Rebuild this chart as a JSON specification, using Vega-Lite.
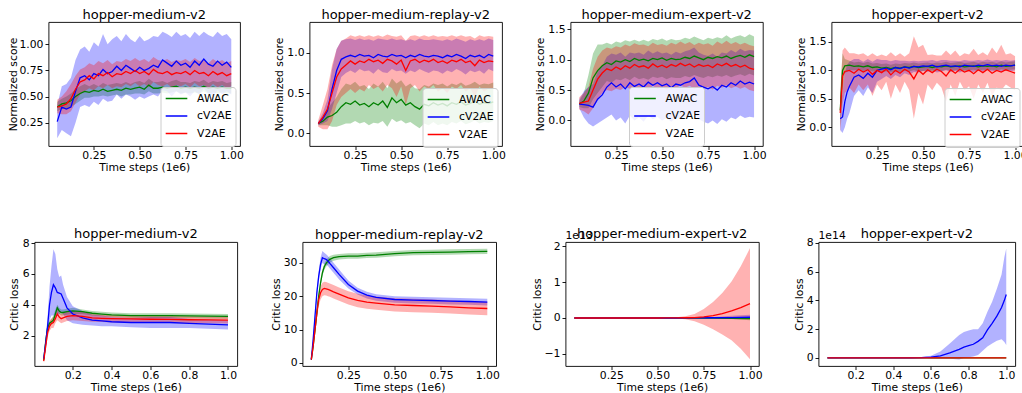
{
"$schema": "https://vega.github.io/schema/vega-lite/v6.json",
"background": "white",
"padding": {"left": 6.5, "top": 8, "right": 0, "bottom": 0},
"config": {
  "font": "DejaVu Sans",
  "view": {"stroke": "#000000", "strokeWidth": 0.9},
  "axis": {"grid": false, "domain": false, "tickCount": 20, "tickColor": "#000000", "tickSize": 3.5, "tickWidth": 0.9, "labelColor": "#000000", "labelFont": "DejaVu Sans", "labelFontSize": 10.8, "titleColor": "#000000", "titleFont": "DejaVu Sans", "titleFontSize": 10.8, "titleFontWeight": "normal", "labelFlush": false, "labelOverlap": false},
  "axisX": {"labelBaseline": "alphabetic", "labelPadding": 8.8, "titleBaseline": "alphabetic", "titleY": 24.7},
  "axisY": {"labelPadding": 2, "titleBaseline": "middle", "titleAngle": 270},
  "title": {"font": "DejaVu Sans", "fontSize": 13, "fontWeight": "normal", "color": "#000000", "baseline": "bottom", "offset": 0.5, "frame": "group", "anchor": "middle"},
  "legend": {"labelFont": "DejaVu Sans", "labelFontSize": 10.8, "labelColor": "#000000", "symbolType": "stroke", "symbolSize": 467, "symbolStrokeWidth": 1.5, "symbolOpacity": 1, "labelOffset": 8.6, "padding": 4, "rowPadding": 1.5, "clipHeight": 15.2, "fillColor": "rgba(255,255,255,0.8)", "strokeColor": "#cccccc", "cornerRadius": 3}
},
"datasets": {
"hm": [
{"s":"AWAC","x":0.05,"y":0.40,"l":0.36,"h":0.45},{"s":"AWAC","x":0.075,"y":0.43,"l":0.38,"h":0.48},{"s":"AWAC","x":0.1,"y":0.44,"l":0.38,"h":0.50},{"s":"AWAC","x":0.125,"y":0.46,"l":0.40,"h":0.53},{"s":"AWAC","x":0.15,"y":0.50,"l":0.43,"h":0.57},{"s":"AWAC","x":0.175,"y":0.53,"l":0.46,"h":0.60},{"s":"AWAC","x":0.2,"y":0.55,"l":0.49,"h":0.62},{"s":"AWAC","x":0.225,"y":0.54,"l":0.49,"h":0.60},{"s":"AWAC","x":0.25,"y":0.56,"l":0.50,"h":0.62},{"s":"AWAC","x":0.275,"y":0.55,"l":0.50,"h":0.60},{"s":"AWAC","x":0.3,"y":0.57,"l":0.51,"h":0.63},{"s":"AWAC","x":0.325,"y":0.55,"l":0.50,"h":0.61},{"s":"AWAC","x":0.35,"y":0.56,"l":0.51,"h":0.62},{"s":"AWAC","x":0.375,"y":0.57,"l":0.52,"h":0.63},{"s":"AWAC","x":0.4,"y":0.56,"l":0.50,"h":0.62},{"s":"AWAC","x":0.425,"y":0.58,"l":0.52,"h":0.64},{"s":"AWAC","x":0.45,"y":0.57,"l":0.52,"h":0.62},{"s":"AWAC","x":0.475,"y":0.58,"l":0.53,"h":0.64},{"s":"AWAC","x":0.5,"y":0.59,"l":0.53,"h":0.65},{"s":"AWAC","x":0.525,"y":0.57,"l":0.52,"h":0.63},{"s":"AWAC","x":0.55,"y":0.61,"l":0.55,"h":0.67},{"s":"AWAC","x":0.575,"y":0.58,"l":0.53,"h":0.64},{"s":"AWAC","x":0.6,"y":0.58,"l":0.53,"h":0.64},{"s":"AWAC","x":0.625,"y":0.59,"l":0.54,"h":0.65},{"s":"AWAC","x":0.65,"y":0.58,"l":0.53,"h":0.63},{"s":"AWAC","x":0.675,"y":0.59,"l":0.54,"h":0.65},{"s":"AWAC","x":0.7,"y":0.60,"l":0.55,"h":0.66},{"s":"AWAC","x":0.725,"y":0.58,"l":0.53,"h":0.64},{"s":"AWAC","x":0.75,"y":0.59,"l":0.54,"h":0.64},{"s":"AWAC","x":0.775,"y":0.58,"l":0.53,"h":0.63},{"s":"AWAC","x":0.8,"y":0.59,"l":0.54,"h":0.65},{"s":"AWAC","x":0.825,"y":0.58,"l":0.53,"h":0.64},{"s":"AWAC","x":0.85,"y":0.60,"l":0.55,"h":0.66},{"s":"AWAC","x":0.875,"y":0.58,"l":0.53,"h":0.63},{"s":"AWAC","x":0.9,"y":0.59,"l":0.54,"h":0.65},{"s":"AWAC","x":0.925,"y":0.58,"l":0.53,"h":0.64},{"s":"AWAC","x":0.95,"y":0.59,"l":0.54,"h":0.65},{"s":"AWAC","x":0.975,"y":0.58,"l":0.53,"h":0.63},{"s":"AWAC","x":1.0,"y":0.58,"l":0.53,"h":0.64},
{"s":"cV2AE","x":0.05,"y":0.26,"l":0.10,"h":0.42},{"s":"cV2AE","x":0.075,"y":0.40,"l":0.18,"h":0.60},{"s":"cV2AE","x":0.1,"y":0.38,"l":0.15,"h":0.62},{"s":"cV2AE","x":0.125,"y":0.40,"l":0.12,"h":0.68},{"s":"cV2AE","x":0.15,"y":0.55,"l":0.25,"h":0.85},{"s":"cV2AE","x":0.175,"y":0.68,"l":0.40,"h":0.95},{"s":"cV2AE","x":0.2,"y":0.70,"l":0.42,"h":0.98},{"s":"cV2AE","x":0.225,"y":0.66,"l":0.40,"h":0.93},{"s":"cV2AE","x":0.25,"y":0.72,"l":0.45,"h":1.02},{"s":"cV2AE","x":0.275,"y":0.70,"l":0.42,"h":0.98},{"s":"cV2AE","x":0.3,"y":0.76,"l":0.48,"h":1.10},{"s":"cV2AE","x":0.325,"y":0.72,"l":0.45,"h":1.00},{"s":"cV2AE","x":0.35,"y":0.74,"l":0.46,"h":1.05},{"s":"cV2AE","x":0.375,"y":0.79,"l":0.52,"h":1.08},{"s":"cV2AE","x":0.4,"y":0.75,"l":0.48,"h":1.03},{"s":"cV2AE","x":0.425,"y":0.80,"l":0.52,"h":1.10},{"s":"cV2AE","x":0.45,"y":0.77,"l":0.50,"h":1.05},{"s":"cV2AE","x":0.475,"y":0.74,"l":0.47,"h":1.02},{"s":"cV2AE","x":0.5,"y":0.78,"l":0.50,"h":1.08},{"s":"cV2AE","x":0.525,"y":0.75,"l":0.48,"h":1.03},{"s":"cV2AE","x":0.55,"y":0.77,"l":0.50,"h":1.05},{"s":"cV2AE","x":0.575,"y":0.80,"l":0.52,"h":1.08},{"s":"cV2AE","x":0.6,"y":0.78,"l":0.50,"h":1.07},{"s":"cV2AE","x":0.625,"y":0.85,"l":0.56,"h":1.12},{"s":"cV2AE","x":0.65,"y":0.82,"l":0.55,"h":1.10},{"s":"cV2AE","x":0.675,"y":0.79,"l":0.50,"h":1.07},{"s":"cV2AE","x":0.7,"y":0.84,"l":0.55,"h":1.12},{"s":"cV2AE","x":0.725,"y":0.80,"l":0.52,"h":1.08},{"s":"cV2AE","x":0.75,"y":0.82,"l":0.54,"h":1.10},{"s":"cV2AE","x":0.775,"y":0.78,"l":0.50,"h":1.06},{"s":"cV2AE","x":0.8,"y":0.84,"l":0.55,"h":1.12},{"s":"cV2AE","x":0.825,"y":0.80,"l":0.52,"h":1.08},{"s":"cV2AE","x":0.85,"y":0.86,"l":0.58,"h":1.12},{"s":"cV2AE","x":0.875,"y":0.81,"l":0.53,"h":1.09},{"s":"cV2AE","x":0.9,"y":0.79,"l":0.50,"h":1.07},{"s":"cV2AE","x":0.925,"y":0.84,"l":0.56,"h":1.12},{"s":"cV2AE","x":0.95,"y":0.80,"l":0.52,"h":1.08},{"s":"cV2AE","x":0.975,"y":0.83,"l":0.55,"h":1.10},{"s":"cV2AE","x":1.0,"y":0.78,"l":0.52,"h":1.05},
{"s":"V2AE","x":0.05,"y":0.40,"l":0.34,"h":0.47},{"s":"V2AE","x":0.075,"y":0.41,"l":0.33,"h":0.50},{"s":"V2AE","x":0.1,"y":0.43,"l":0.33,"h":0.55},{"s":"V2AE","x":0.125,"y":0.48,"l":0.36,"h":0.62},{"s":"V2AE","x":0.15,"y":0.57,"l":0.44,"h":0.70},{"s":"V2AE","x":0.175,"y":0.64,"l":0.52,"h":0.76},{"s":"V2AE","x":0.2,"y":0.66,"l":0.55,"h":0.78},{"s":"V2AE","x":0.225,"y":0.70,"l":0.58,"h":0.82},{"s":"V2AE","x":0.25,"y":0.67,"l":0.56,"h":0.80},{"s":"V2AE","x":0.275,"y":0.72,"l":0.60,"h":0.84},{"s":"V2AE","x":0.3,"y":0.70,"l":0.58,"h":0.82},{"s":"V2AE","x":0.325,"y":0.73,"l":0.61,"h":0.85},{"s":"V2AE","x":0.35,"y":0.69,"l":0.58,"h":0.81},{"s":"V2AE","x":0.375,"y":0.72,"l":0.60,"h":0.84},{"s":"V2AE","x":0.4,"y":0.71,"l":0.59,"h":0.83},{"s":"V2AE","x":0.425,"y":0.74,"l":0.62,"h":0.86},{"s":"V2AE","x":0.45,"y":0.72,"l":0.60,"h":0.84},{"s":"V2AE","x":0.475,"y":0.75,"l":0.63,"h":0.87},{"s":"V2AE","x":0.5,"y":0.72,"l":0.60,"h":0.84},{"s":"V2AE","x":0.525,"y":0.74,"l":0.62,"h":0.86},{"s":"V2AE","x":0.55,"y":0.71,"l":0.59,"h":0.83},{"s":"V2AE","x":0.575,"y":0.76,"l":0.64,"h":0.88},{"s":"V2AE","x":0.6,"y":0.73,"l":0.61,"h":0.85},{"s":"V2AE","x":0.625,"y":0.72,"l":0.60,"h":0.84},{"s":"V2AE","x":0.65,"y":0.74,"l":0.62,"h":0.86},{"s":"V2AE","x":0.675,"y":0.71,"l":0.59,"h":0.83},{"s":"V2AE","x":0.7,"y":0.73,"l":0.61,"h":0.85},{"s":"V2AE","x":0.725,"y":0.72,"l":0.60,"h":0.84},{"s":"V2AE","x":0.75,"y":0.74,"l":0.62,"h":0.86},{"s":"V2AE","x":0.775,"y":0.71,"l":0.59,"h":0.83},{"s":"V2AE","x":0.8,"y":0.75,"l":0.63,"h":0.87},{"s":"V2AE","x":0.825,"y":0.72,"l":0.60,"h":0.84},{"s":"V2AE","x":0.85,"y":0.73,"l":0.61,"h":0.85},{"s":"V2AE","x":0.875,"y":0.70,"l":0.58,"h":0.82},{"s":"V2AE","x":0.9,"y":0.74,"l":0.62,"h":0.86},{"s":"V2AE","x":0.925,"y":0.71,"l":0.59,"h":0.83},{"s":"V2AE","x":0.95,"y":0.73,"l":0.61,"h":0.85},{"s":"V2AE","x":0.975,"y":0.70,"l":0.58,"h":0.82},{"s":"V2AE","x":1.0,"y":0.72,"l":0.60,"h":0.84}
],
"hmr": [
{"s":"AWAC","x":0.05,"y":0.12,"l":0.10,"h":0.14},{"s":"AWAC","x":0.075,"y":0.15,"l":0.10,"h":0.20},{"s":"AWAC","x":0.1,"y":0.20,"l":0.10,"h":0.30},{"s":"AWAC","x":0.125,"y":0.22,"l":0.08,"h":0.38},{"s":"AWAC","x":0.15,"y":0.26,"l":0.08,"h":0.45},{"s":"AWAC","x":0.175,"y":0.33,"l":0.10,"h":0.55},{"s":"AWAC","x":0.2,"y":0.38,"l":0.12,"h":0.62},{"s":"AWAC","x":0.225,"y":0.36,"l":0.12,"h":0.60},{"s":"AWAC","x":0.25,"y":0.40,"l":0.15,"h":0.64},{"s":"AWAC","x":0.275,"y":0.35,"l":0.12,"h":0.58},{"s":"AWAC","x":0.3,"y":0.37,"l":0.14,"h":0.60},{"s":"AWAC","x":0.325,"y":0.33,"l":0.10,"h":0.55},{"s":"AWAC","x":0.35,"y":0.38,"l":0.13,"h":0.62},{"s":"AWAC","x":0.375,"y":0.35,"l":0.12,"h":0.58},{"s":"AWAC","x":0.4,"y":0.40,"l":0.15,"h":0.64},{"s":"AWAC","x":0.425,"y":0.32,"l":0.08,"h":0.56},{"s":"AWAC","x":0.45,"y":0.44,"l":0.18,"h":0.68},{"s":"AWAC","x":0.475,"y":0.38,"l":0.14,"h":0.62},{"s":"AWAC","x":0.5,"y":0.42,"l":0.16,"h":0.66},{"s":"AWAC","x":0.525,"y":0.35,"l":0.12,"h":0.58},{"s":"AWAC","x":0.55,"y":0.38,"l":0.14,"h":0.62},{"s":"AWAC","x":0.575,"y":0.33,"l":0.10,"h":0.56},{"s":"AWAC","x":0.6,"y":0.30,"l":0.06,"h":0.55},{"s":"AWAC","x":0.625,"y":0.36,"l":0.12,"h":0.60},{"s":"AWAC","x":0.65,"y":0.34,"l":0.10,"h":0.58},{"s":"AWAC","x":0.675,"y":0.38,"l":0.14,"h":0.62},{"s":"AWAC","x":0.7,"y":0.35,"l":0.10,"h":0.60},{"s":"AWAC","x":0.725,"y":0.37,"l":0.12,"h":0.62},{"s":"AWAC","x":0.75,"y":0.34,"l":0.10,"h":0.58},{"s":"AWAC","x":0.775,"y":0.38,"l":0.14,"h":0.62},{"s":"AWAC","x":0.8,"y":0.36,"l":0.12,"h":0.60},{"s":"AWAC","x":0.825,"y":0.39,"l":0.15,"h":0.63},{"s":"AWAC","x":0.85,"y":0.35,"l":0.11,"h":0.59},{"s":"AWAC","x":0.875,"y":0.37,"l":0.13,"h":0.61},{"s":"AWAC","x":0.9,"y":0.40,"l":0.16,"h":0.64},{"s":"AWAC","x":0.925,"y":0.36,"l":0.12,"h":0.60},{"s":"AWAC","x":0.95,"y":0.38,"l":0.14,"h":0.62},{"s":"AWAC","x":0.975,"y":0.37,"l":0.13,"h":0.61},{"s":"AWAC","x":1.0,"y":0.39,"l":0.15,"h":0.63},
{"s":"cV2AE","x":0.05,"y":0.12,"l":0.10,"h":0.14},{"s":"cV2AE","x":0.075,"y":0.18,"l":0.12,"h":0.25},{"s":"cV2AE","x":0.1,"y":0.28,"l":0.15,"h":0.42},{"s":"cV2AE","x":0.125,"y":0.55,"l":0.30,"h":0.80},{"s":"cV2AE","x":0.15,"y":0.78,"l":0.50,"h":1.05},{"s":"cV2AE","x":0.175,"y":0.92,"l":0.70,"h":1.15},{"s":"cV2AE","x":0.2,"y":0.95,"l":0.75,"h":1.17},{"s":"cV2AE","x":0.225,"y":0.97,"l":0.78,"h":1.18},{"s":"cV2AE","x":0.25,"y":0.95,"l":0.75,"h":1.16},{"s":"cV2AE","x":0.275,"y":0.98,"l":0.80,"h":1.18},{"s":"cV2AE","x":0.3,"y":0.96,"l":0.77,"h":1.16},{"s":"cV2AE","x":0.325,"y":0.97,"l":0.78,"h":1.17},{"s":"cV2AE","x":0.35,"y":0.94,"l":0.74,"h":1.15},{"s":"cV2AE","x":0.375,"y":0.98,"l":0.80,"h":1.18},{"s":"cV2AE","x":0.4,"y":0.96,"l":0.76,"h":1.17},{"s":"cV2AE","x":0.425,"y":0.95,"l":0.75,"h":1.16},{"s":"cV2AE","x":0.45,"y":0.98,"l":0.80,"h":1.18},{"s":"cV2AE","x":0.475,"y":0.96,"l":0.77,"h":1.16},{"s":"cV2AE","x":0.5,"y":0.97,"l":0.78,"h":1.17},{"s":"cV2AE","x":0.525,"y":0.94,"l":0.74,"h":1.15},{"s":"cV2AE","x":0.55,"y":0.97,"l":0.78,"h":1.17},{"s":"cV2AE","x":0.575,"y":0.95,"l":0.76,"h":1.15},{"s":"cV2AE","x":0.6,"y":0.98,"l":0.80,"h":1.18},{"s":"cV2AE","x":0.625,"y":0.96,"l":0.77,"h":1.16},{"s":"cV2AE","x":0.65,"y":0.95,"l":0.75,"h":1.16},{"s":"cV2AE","x":0.675,"y":0.97,"l":0.78,"h":1.17},{"s":"cV2AE","x":0.7,"y":0.96,"l":0.77,"h":1.16},{"s":"cV2AE","x":0.725,"y":0.94,"l":0.74,"h":1.15},{"s":"cV2AE","x":0.75,"y":0.97,"l":0.78,"h":1.17},{"s":"cV2AE","x":0.775,"y":0.95,"l":0.76,"h":1.15},{"s":"cV2AE","x":0.8,"y":0.98,"l":0.80,"h":1.18},{"s":"cV2AE","x":0.825,"y":0.96,"l":0.77,"h":1.16},{"s":"cV2AE","x":0.85,"y":0.93,"l":0.73,"h":1.14},{"s":"cV2AE","x":0.875,"y":0.97,"l":0.78,"h":1.17},{"s":"cV2AE","x":0.9,"y":0.95,"l":0.76,"h":1.15},{"s":"cV2AE","x":0.925,"y":0.97,"l":0.78,"h":1.17},{"s":"cV2AE","x":0.95,"y":0.94,"l":0.74,"h":1.15},{"s":"cV2AE","x":0.975,"y":0.98,"l":0.80,"h":1.18},{"s":"cV2AE","x":1.0,"y":0.96,"l":0.77,"h":1.16},
{"s":"V2AE","x":0.05,"y":0.12,"l":0.08,"h":0.16},{"s":"V2AE","x":0.075,"y":0.20,"l":0.05,"h":0.35},{"s":"V2AE","x":0.1,"y":0.30,"l":0.05,"h":0.55},{"s":"V2AE","x":0.125,"y":0.50,"l":0.15,"h":0.85},{"s":"V2AE","x":0.15,"y":0.70,"l":0.35,"h":1.05},{"s":"V2AE","x":0.175,"y":0.80,"l":0.45,"h":1.15},{"s":"V2AE","x":0.2,"y":0.85,"l":0.50,"h":1.18},{"s":"V2AE","x":0.225,"y":0.90,"l":0.55,"h":1.22},{"s":"V2AE","x":0.25,"y":0.86,"l":0.50,"h":1.20},{"s":"V2AE","x":0.275,"y":0.90,"l":0.55,"h":1.22},{"s":"V2AE","x":0.3,"y":0.88,"l":0.52,"h":1.20},{"s":"V2AE","x":0.325,"y":0.92,"l":0.60,"h":1.22},{"s":"V2AE","x":0.35,"y":0.89,"l":0.55,"h":1.20},{"s":"V2AE","x":0.375,"y":0.91,"l":0.58,"h":1.22},{"s":"V2AE","x":0.4,"y":0.87,"l":0.52,"h":1.20},{"s":"V2AE","x":0.425,"y":0.92,"l":0.60,"h":1.23},{"s":"V2AE","x":0.45,"y":0.90,"l":0.56,"h":1.21},{"s":"V2AE","x":0.475,"y":0.86,"l":0.45,"h":1.20},{"s":"V2AE","x":0.5,"y":0.91,"l":0.58,"h":1.22},{"s":"V2AE","x":0.525,"y":0.78,"l":0.35,"h":1.15},{"s":"V2AE","x":0.55,"y":0.90,"l":0.56,"h":1.21},{"s":"V2AE","x":0.575,"y":0.92,"l":0.60,"h":1.22},{"s":"V2AE","x":0.6,"y":0.88,"l":0.52,"h":1.20},{"s":"V2AE","x":0.625,"y":0.91,"l":0.58,"h":1.22},{"s":"V2AE","x":0.65,"y":0.89,"l":0.55,"h":1.20},{"s":"V2AE","x":0.675,"y":0.92,"l":0.60,"h":1.22},{"s":"V2AE","x":0.7,"y":0.88,"l":0.52,"h":1.20},{"s":"V2AE","x":0.725,"y":0.90,"l":0.56,"h":1.21},{"s":"V2AE","x":0.75,"y":0.87,"l":0.50,"h":1.20},{"s":"V2AE","x":0.775,"y":0.91,"l":0.58,"h":1.22},{"s":"V2AE","x":0.8,"y":0.89,"l":0.55,"h":1.20},{"s":"V2AE","x":0.825,"y":0.92,"l":0.60,"h":1.22},{"s":"V2AE","x":0.85,"y":0.88,"l":0.52,"h":1.20},{"s":"V2AE","x":0.875,"y":0.90,"l":0.56,"h":1.21},{"s":"V2AE","x":0.9,"y":0.84,"l":0.45,"h":1.18},{"s":"V2AE","x":0.925,"y":0.91,"l":0.58,"h":1.22},{"s":"V2AE","x":0.95,"y":0.88,"l":0.52,"h":1.20},{"s":"V2AE","x":0.975,"y":0.90,"l":0.56,"h":1.21},{"s":"V2AE","x":1.0,"y":0.89,"l":0.55,"h":1.20}
],
"hme": [
{"s":"AWAC","x":0.05,"y":0.27,"l":0.22,"h":0.32},{"s":"AWAC","x":0.075,"y":0.32,"l":0.20,"h":0.45},{"s":"AWAC","x":0.1,"y":0.45,"l":0.20,"h":0.75},{"s":"AWAC","x":0.125,"y":0.70,"l":0.35,"h":1.10},{"s":"AWAC","x":0.15,"y":0.82,"l":0.45,"h":1.25},{"s":"AWAC","x":0.175,"y":0.90,"l":0.55,"h":1.25},{"s":"AWAC","x":0.2,"y":0.95,"l":0.65,"h":1.28},{"s":"AWAC","x":0.225,"y":0.92,"l":0.62,"h":1.25},{"s":"AWAC","x":0.25,"y":0.98,"l":0.68,"h":1.30},{"s":"AWAC","x":0.275,"y":0.96,"l":0.66,"h":1.28},{"s":"AWAC","x":0.3,"y":1.00,"l":0.70,"h":1.32},{"s":"AWAC","x":0.325,"y":0.97,"l":0.66,"h":1.30},{"s":"AWAC","x":0.35,"y":1.02,"l":0.72,"h":1.33},{"s":"AWAC","x":0.375,"y":0.99,"l":0.68,"h":1.30},{"s":"AWAC","x":0.4,"y":1.01,"l":0.70,"h":1.33},{"s":"AWAC","x":0.425,"y":0.98,"l":0.67,"h":1.30},{"s":"AWAC","x":0.45,"y":1.02,"l":0.72,"h":1.34},{"s":"AWAC","x":0.475,"y":1.00,"l":0.70,"h":1.32},{"s":"AWAC","x":0.5,"y":1.03,"l":0.72,"h":1.35},{"s":"AWAC","x":0.525,"y":0.99,"l":0.68,"h":1.31},{"s":"AWAC","x":0.55,"y":1.02,"l":0.71,"h":1.34},{"s":"AWAC","x":0.575,"y":1.00,"l":0.70,"h":1.32},{"s":"AWAC","x":0.6,"y":1.01,"l":0.70,"h":1.33},{"s":"AWAC","x":0.625,"y":1.04,"l":0.73,"h":1.36},{"s":"AWAC","x":0.65,"y":1.02,"l":0.71,"h":1.34},{"s":"AWAC","x":0.675,"y":1.06,"l":0.75,"h":1.38},{"s":"AWAC","x":0.7,"y":1.03,"l":0.72,"h":1.35},{"s":"AWAC","x":0.725,"y":1.00,"l":0.70,"h":1.32},{"s":"AWAC","x":0.75,"y":1.04,"l":0.73,"h":1.36},{"s":"AWAC","x":0.775,"y":1.02,"l":0.71,"h":1.34},{"s":"AWAC","x":0.8,"y":1.05,"l":0.74,"h":1.37},{"s":"AWAC","x":0.825,"y":1.03,"l":0.72,"h":1.35},{"s":"AWAC","x":0.85,"y":1.06,"l":0.75,"h":1.40},{"s":"AWAC","x":0.875,"y":1.02,"l":0.71,"h":1.35},{"s":"AWAC","x":0.9,"y":1.05,"l":0.74,"h":1.38},{"s":"AWAC","x":0.925,"y":1.07,"l":0.76,"h":1.40},{"s":"AWAC","x":0.95,"y":1.04,"l":0.73,"h":1.37},{"s":"AWAC","x":0.975,"y":1.08,"l":0.77,"h":1.42},{"s":"AWAC","x":1.0,"y":1.05,"l":0.74,"h":1.38},
{"s":"cV2AE","x":0.05,"y":0.27,"l":0.20,"h":0.35},{"s":"cV2AE","x":0.075,"y":0.26,"l":0.05,"h":0.48},{"s":"cV2AE","x":0.1,"y":0.25,"l":-0.05,"h":0.55},{"s":"cV2AE","x":0.125,"y":0.22,"l":-0.10,"h":0.60},{"s":"cV2AE","x":0.15,"y":0.35,"l":-0.05,"h":0.80},{"s":"cV2AE","x":0.175,"y":0.42,"l":0.00,"h":0.90},{"s":"cV2AE","x":0.2,"y":0.55,"l":0.05,"h":1.05},{"s":"cV2AE","x":0.225,"y":0.62,"l":0.10,"h":1.10},{"s":"cV2AE","x":0.25,"y":0.55,"l":0.00,"h":1.08},{"s":"cV2AE","x":0.275,"y":0.60,"l":0.05,"h":1.12},{"s":"cV2AE","x":0.3,"y":0.52,"l":-0.05,"h":1.05},{"s":"cV2AE","x":0.325,"y":0.62,"l":0.08,"h":1.12},{"s":"cV2AE","x":0.35,"y":0.56,"l":0.00,"h":1.10},{"s":"cV2AE","x":0.375,"y":0.60,"l":0.05,"h":1.12},{"s":"cV2AE","x":0.4,"y":0.55,"l":-0.02,"h":1.08},{"s":"cV2AE","x":0.425,"y":0.63,"l":0.08,"h":1.15},{"s":"cV2AE","x":0.45,"y":0.58,"l":0.02,"h":1.10},{"s":"cV2AE","x":0.475,"y":0.62,"l":0.06,"h":1.14},{"s":"cV2AE","x":0.5,"y":0.57,"l":0.00,"h":1.10},{"s":"cV2AE","x":0.525,"y":0.60,"l":0.04,"h":1.12},{"s":"cV2AE","x":0.55,"y":0.54,"l":-0.02,"h":1.08},{"s":"cV2AE","x":0.575,"y":0.60,"l":0.05,"h":1.13},{"s":"cV2AE","x":0.6,"y":0.58,"l":0.02,"h":1.10},{"s":"cV2AE","x":0.625,"y":0.62,"l":0.06,"h":1.14},{"s":"cV2AE","x":0.65,"y":0.64,"l":0.08,"h":1.16},{"s":"cV2AE","x":0.675,"y":0.70,"l":0.12,"h":1.20},{"s":"cV2AE","x":0.7,"y":0.58,"l":0.02,"h":1.12},{"s":"cV2AE","x":0.725,"y":0.55,"l":-0.02,"h":1.08},{"s":"cV2AE","x":0.75,"y":0.52,"l":-0.05,"h":1.06},{"s":"cV2AE","x":0.775,"y":0.56,"l":0.00,"h":1.10},{"s":"cV2AE","x":0.8,"y":0.50,"l":-0.06,"h":1.05},{"s":"cV2AE","x":0.825,"y":0.58,"l":0.02,"h":1.12},{"s":"cV2AE","x":0.85,"y":0.55,"l":-0.02,"h":1.10},{"s":"cV2AE","x":0.875,"y":0.62,"l":0.05,"h":1.16},{"s":"cV2AE","x":0.9,"y":0.58,"l":0.02,"h":1.12},{"s":"cV2AE","x":0.925,"y":0.65,"l":0.08,"h":1.18},{"s":"cV2AE","x":0.95,"y":0.60,"l":0.04,"h":1.14},{"s":"cV2AE","x":0.975,"y":0.63,"l":0.06,"h":1.16},{"s":"cV2AE","x":1.0,"y":0.60,"l":0.05,"h":1.15},
{"s":"V2AE","x":0.05,"y":0.28,"l":0.18,"h":0.38},{"s":"V2AE","x":0.075,"y":0.30,"l":0.15,"h":0.45},{"s":"V2AE","x":0.1,"y":0.32,"l":0.10,"h":0.55},{"s":"V2AE","x":0.125,"y":0.50,"l":0.20,"h":0.85},{"s":"V2AE","x":0.15,"y":0.68,"l":0.35,"h":1.05},{"s":"V2AE","x":0.175,"y":0.78,"l":0.45,"h":1.15},{"s":"V2AE","x":0.2,"y":0.85,"l":0.50,"h":1.20},{"s":"V2AE","x":0.225,"y":0.82,"l":0.48,"h":1.18},{"s":"V2AE","x":0.25,"y":0.88,"l":0.52,"h":1.22},{"s":"V2AE","x":0.275,"y":0.84,"l":0.50,"h":1.20},{"s":"V2AE","x":0.3,"y":0.90,"l":0.55,"h":1.25},{"s":"V2AE","x":0.325,"y":0.86,"l":0.52,"h":1.22},{"s":"V2AE","x":0.35,"y":0.92,"l":0.56,"h":1.27},{"s":"V2AE","x":0.375,"y":0.88,"l":0.52,"h":1.24},{"s":"V2AE","x":0.4,"y":0.90,"l":0.55,"h":1.25},{"s":"V2AE","x":0.425,"y":0.86,"l":0.50,"h":1.22},{"s":"V2AE","x":0.45,"y":0.93,"l":0.57,"h":1.28},{"s":"V2AE","x":0.475,"y":0.88,"l":0.52,"h":1.24},{"s":"V2AE","x":0.5,"y":0.91,"l":0.55,"h":1.26},{"s":"V2AE","x":0.525,"y":0.87,"l":0.51,"h":1.23},{"s":"V2AE","x":0.55,"y":0.92,"l":0.56,"h":1.28},{"s":"V2AE","x":0.575,"y":0.89,"l":0.53,"h":1.25},{"s":"V2AE","x":0.6,"y":0.94,"l":0.58,"h":1.30},{"s":"V2AE","x":0.625,"y":0.90,"l":0.54,"h":1.26},{"s":"V2AE","x":0.65,"y":0.93,"l":0.57,"h":1.29},{"s":"V2AE","x":0.675,"y":0.88,"l":0.52,"h":1.24},{"s":"V2AE","x":0.7,"y":0.92,"l":0.56,"h":1.28},{"s":"V2AE","x":0.725,"y":0.89,"l":0.53,"h":1.25},{"s":"V2AE","x":0.75,"y":0.91,"l":0.55,"h":1.27},{"s":"V2AE","x":0.775,"y":0.87,"l":0.51,"h":1.23},{"s":"V2AE","x":0.8,"y":0.93,"l":0.57,"h":1.30},{"s":"V2AE","x":0.825,"y":0.90,"l":0.54,"h":1.26},{"s":"V2AE","x":0.85,"y":0.94,"l":0.58,"h":1.31},{"s":"V2AE","x":0.875,"y":0.89,"l":0.53,"h":1.26},{"s":"V2AE","x":0.9,"y":0.92,"l":0.56,"h":1.29},{"s":"V2AE","x":0.925,"y":0.88,"l":0.52,"h":1.25},{"s":"V2AE","x":0.95,"y":0.91,"l":0.55,"h":1.28},{"s":"V2AE","x":0.975,"y":0.86,"l":0.50,"h":1.24},{"s":"V2AE","x":1.0,"y":0.84,"l":0.48,"h":1.22}
],
"he": [
{"s":"AWAC","x":0.05,"y":0.30,"l":0.00,"h":0.60},{"s":"AWAC","x":0.0625,"y":1.00,"l":0.60,"h":1.30},{"s":"AWAC","x":0.075,"y":1.08,"l":0.95,"h":1.20},{"s":"AWAC","x":0.1,"y":1.09,"l":1.00,"h":1.17},{"s":"AWAC","x":0.125,"y":1.07,"l":1.00,"h":1.14},{"s":"AWAC","x":0.15,"y":1.08,"l":1.01,"h":1.15},{"s":"AWAC","x":0.175,"y":1.06,"l":0.99,"h":1.13},{"s":"AWAC","x":0.2,"y":1.08,"l":1.01,"h":1.15},{"s":"AWAC","x":0.225,"y":1.05,"l":0.98,"h":1.12},{"s":"AWAC","x":0.25,"y":1.06,"l":0.99,"h":1.13},{"s":"AWAC","x":0.275,"y":1.04,"l":0.97,"h":1.11},{"s":"AWAC","x":0.3,"y":1.05,"l":0.98,"h":1.12},{"s":"AWAC","x":0.325,"y":1.03,"l":0.96,"h":1.10},{"s":"AWAC","x":0.35,"y":1.05,"l":0.98,"h":1.12},{"s":"AWAC","x":0.375,"y":1.04,"l":0.97,"h":1.11},{"s":"AWAC","x":0.4,"y":1.06,"l":0.99,"h":1.13},{"s":"AWAC","x":0.425,"y":1.05,"l":0.98,"h":1.12},{"s":"AWAC","x":0.45,"y":1.07,"l":1.00,"h":1.14},{"s":"AWAC","x":0.475,"y":1.05,"l":0.98,"h":1.12},{"s":"AWAC","x":0.5,"y":1.06,"l":0.99,"h":1.13},{"s":"AWAC","x":0.525,"y":1.07,"l":1.00,"h":1.14},{"s":"AWAC","x":0.55,"y":1.05,"l":0.98,"h":1.12},{"s":"AWAC","x":0.575,"y":1.07,"l":1.00,"h":1.14},{"s":"AWAC","x":0.6,"y":1.06,"l":0.99,"h":1.13},{"s":"AWAC","x":0.625,"y":1.08,"l":1.01,"h":1.15},{"s":"AWAC","x":0.65,"y":1.06,"l":0.99,"h":1.13},{"s":"AWAC","x":0.675,"y":1.07,"l":1.00,"h":1.14},{"s":"AWAC","x":0.7,"y":1.08,"l":1.01,"h":1.15},{"s":"AWAC","x":0.725,"y":1.06,"l":0.99,"h":1.13},{"s":"AWAC","x":0.75,"y":1.07,"l":1.00,"h":1.14},{"s":"AWAC","x":0.775,"y":1.08,"l":1.01,"h":1.15},{"s":"AWAC","x":0.8,"y":1.06,"l":0.99,"h":1.13},{"s":"AWAC","x":0.825,"y":1.08,"l":1.01,"h":1.15},{"s":"AWAC","x":0.85,"y":1.07,"l":1.00,"h":1.14},{"s":"AWAC","x":0.875,"y":1.08,"l":1.01,"h":1.15},{"s":"AWAC","x":0.9,"y":1.06,"l":0.99,"h":1.13},{"s":"AWAC","x":0.925,"y":1.09,"l":1.02,"h":1.16},{"s":"AWAC","x":0.95,"y":1.07,"l":1.00,"h":1.14},{"s":"AWAC","x":0.975,"y":1.08,"l":1.01,"h":1.15},{"s":"AWAC","x":1.0,"y":1.09,"l":1.02,"h":1.16},
{"s":"cV2AE","x":0.05,"y":0.15,"l":-0.05,"h":0.40},{"s":"cV2AE","x":0.0625,"y":0.18,"l":-0.10,"h":0.60},{"s":"cV2AE","x":0.075,"y":0.45,"l":0.00,"h":0.95},{"s":"cV2AE","x":0.0875,"y":0.62,"l":0.15,"h":1.10},{"s":"cV2AE","x":0.1,"y":0.72,"l":0.25,"h":1.15},{"s":"cV2AE","x":0.125,"y":0.88,"l":0.55,"h":1.20},{"s":"cV2AE","x":0.15,"y":0.92,"l":0.65,"h":1.20},{"s":"cV2AE","x":0.175,"y":0.86,"l":0.55,"h":1.15},{"s":"cV2AE","x":0.2,"y":0.95,"l":0.70,"h":1.20},{"s":"cV2AE","x":0.225,"y":0.88,"l":0.60,"h":1.15},{"s":"cV2AE","x":0.25,"y":1.00,"l":0.80,"h":1.20},{"s":"cV2AE","x":0.275,"y":1.02,"l":0.85,"h":1.18},{"s":"cV2AE","x":0.3,"y":1.04,"l":0.90,"h":1.18},{"s":"cV2AE","x":0.325,"y":1.01,"l":0.85,"h":1.16},{"s":"cV2AE","x":0.35,"y":1.05,"l":0.92,"h":1.18},{"s":"cV2AE","x":0.375,"y":1.03,"l":0.88,"h":1.17},{"s":"cV2AE","x":0.4,"y":1.06,"l":0.95,"h":1.17},{"s":"cV2AE","x":0.425,"y":1.04,"l":0.92,"h":1.16},{"s":"cV2AE","x":0.45,"y":1.07,"l":0.97,"h":1.17},{"s":"cV2AE","x":0.475,"y":1.06,"l":0.96,"h":1.16},{"s":"cV2AE","x":0.5,"y":1.08,"l":0.99,"h":1.17},{"s":"cV2AE","x":0.525,"y":1.07,"l":0.97,"h":1.17},{"s":"cV2AE","x":0.55,"y":1.09,"l":1.00,"h":1.18},{"s":"cV2AE","x":0.575,"y":1.06,"l":0.96,"h":1.16},{"s":"cV2AE","x":0.6,"y":1.08,"l":0.98,"h":1.18},{"s":"cV2AE","x":0.625,"y":1.09,"l":1.00,"h":1.18},{"s":"cV2AE","x":0.65,"y":1.07,"l":0.97,"h":1.17},{"s":"cV2AE","x":0.675,"y":1.08,"l":0.99,"h":1.17},{"s":"cV2AE","x":0.7,"y":1.06,"l":0.96,"h":1.16},{"s":"cV2AE","x":0.725,"y":1.09,"l":1.00,"h":1.18},{"s":"cV2AE","x":0.75,"y":1.08,"l":0.98,"h":1.17},{"s":"cV2AE","x":0.775,"y":1.07,"l":0.97,"h":1.17},{"s":"cV2AE","x":0.8,"y":1.09,"l":1.00,"h":1.18},{"s":"cV2AE","x":0.825,"y":1.08,"l":0.98,"h":1.17},{"s":"cV2AE","x":0.85,"y":1.10,"l":1.01,"h":1.19},{"s":"cV2AE","x":0.875,"y":1.08,"l":0.98,"h":1.17},{"s":"cV2AE","x":0.9,"y":1.09,"l":1.00,"h":1.18},{"s":"cV2AE","x":0.925,"y":1.07,"l":0.97,"h":1.17},{"s":"cV2AE","x":0.95,"y":1.09,"l":1.00,"h":1.18},{"s":"cV2AE","x":0.975,"y":1.08,"l":0.98,"h":1.17},{"s":"cV2AE","x":1.0,"y":1.09,"l":1.00,"h":1.18},
{"s":"V2AE","x":0.05,"y":0.25,"l":-0.10,"h":0.55},{"s":"V2AE","x":0.0625,"y":0.90,"l":0.40,"h":1.35},{"s":"V2AE","x":0.075,"y":0.98,"l":0.60,"h":1.40},{"s":"V2AE","x":0.1,"y":1.00,"l":0.70,"h":1.30},{"s":"V2AE","x":0.125,"y":0.95,"l":0.60,"h":1.30},{"s":"V2AE","x":0.15,"y":1.02,"l":0.75,"h":1.28},{"s":"V2AE","x":0.175,"y":0.97,"l":0.65,"h":1.30},{"s":"V2AE","x":0.2,"y":1.01,"l":0.75,"h":1.25},{"s":"V2AE","x":0.225,"y":0.93,"l":0.55,"h":1.30},{"s":"V2AE","x":0.25,"y":1.00,"l":0.75,"h":1.25},{"s":"V2AE","x":0.275,"y":0.96,"l":0.65,"h":1.28},{"s":"V2AE","x":0.3,"y":1.02,"l":0.80,"h":1.25},{"s":"V2AE","x":0.325,"y":0.92,"l":0.50,"h":1.32},{"s":"V2AE","x":0.35,"y":1.00,"l":0.75,"h":1.25},{"s":"V2AE","x":0.375,"y":0.95,"l":0.60,"h":1.30},{"s":"V2AE","x":0.4,"y":1.02,"l":0.80,"h":1.24},{"s":"V2AE","x":0.425,"y":0.97,"l":0.65,"h":1.30},{"s":"V2AE","x":0.45,"y":0.85,"l":0.15,"h":1.60},{"s":"V2AE","x":0.475,"y":1.00,"l":0.60,"h":1.40},{"s":"V2AE","x":0.5,"y":0.93,"l":0.40,"h":1.45},{"s":"V2AE","x":0.525,"y":1.01,"l":0.75,"h":1.27},{"s":"V2AE","x":0.55,"y":0.96,"l":0.65,"h":1.28},{"s":"V2AE","x":0.575,"y":1.02,"l":0.78,"h":1.26},{"s":"V2AE","x":0.6,"y":0.98,"l":0.70,"h":1.26},{"s":"V2AE","x":0.625,"y":0.90,"l":0.45,"h":1.35},{"s":"V2AE","x":0.65,"y":1.01,"l":0.75,"h":1.27},{"s":"V2AE","x":0.675,"y":0.95,"l":0.55,"h":1.35},{"s":"V2AE","x":0.7,"y":1.02,"l":0.80,"h":1.25},{"s":"V2AE","x":0.725,"y":0.97,"l":0.65,"h":1.30},{"s":"V2AE","x":0.75,"y":1.00,"l":0.72,"h":1.28},{"s":"V2AE","x":0.775,"y":0.94,"l":0.50,"h":1.38},{"s":"V2AE","x":0.8,"y":1.01,"l":0.75,"h":1.27},{"s":"V2AE","x":0.825,"y":0.96,"l":0.60,"h":1.32},{"s":"V2AE","x":0.85,"y":1.02,"l":0.78,"h":1.26},{"s":"V2AE","x":0.875,"y":0.95,"l":0.55,"h":1.40},{"s":"V2AE","x":0.9,"y":1.00,"l":0.70,"h":1.30},{"s":"V2AE","x":0.925,"y":0.97,"l":0.65,"h":1.45},{"s":"V2AE","x":0.95,"y":1.01,"l":0.75,"h":1.28},{"s":"V2AE","x":0.975,"y":0.98,"l":0.70,"h":1.30},{"s":"V2AE","x":1.0,"y":0.95,"l":0.65,"h":1.25}
],
"cm": [
{"s":"AWAC","x":0.05,"y":0.4,"l":0.3,"h":0.5},{"s":"AWAC","x":0.06,"y":1.6,"l":1.4,"h":1.8},{"s":"AWAC","x":0.07,"y":2.5,"l":2.3,"h":2.7},{"s":"AWAC","x":0.08,"y":2.8,"l":2.6,"h":3.0},{"s":"AWAC","x":0.09,"y":2.9,"l":2.7,"h":3.1},{"s":"AWAC","x":0.1,"y":3.0,"l":2.8,"h":3.3},{"s":"AWAC","x":0.11,"y":3.4,"l":3.1,"h":3.7},{"s":"AWAC","x":0.12,"y":3.8,"l":3.5,"h":4.0},{"s":"AWAC","x":0.13,"y":3.6,"l":3.4,"h":3.8},{"s":"AWAC","x":0.14,"y":3.5,"l":3.3,"h":3.7},{"s":"AWAC","x":0.15,"y":3.5,"l":3.3,"h":3.7},{"s":"AWAC","x":0.17,"y":3.55,"l":3.35,"h":3.75},{"s":"AWAC","x":0.2,"y":3.6,"l":3.4,"h":3.8},{"s":"AWAC","x":0.25,"y":3.55,"l":3.4,"h":3.7},{"s":"AWAC","x":0.3,"y":3.45,"l":3.3,"h":3.6},{"s":"AWAC","x":0.35,"y":3.4,"l":3.25,"h":3.55},{"s":"AWAC","x":0.4,"y":3.35,"l":3.2,"h":3.5},{"s":"AWAC","x":0.5,"y":3.3,"l":3.15,"h":3.45},{"s":"AWAC","x":0.6,"y":3.3,"l":3.15,"h":3.45},{"s":"AWAC","x":0.7,"y":3.3,"l":3.15,"h":3.45},{"s":"AWAC","x":0.8,"y":3.28,"l":3.13,"h":3.43},{"s":"AWAC","x":0.9,"y":3.26,"l":3.11,"h":3.41},{"s":"AWAC","x":1.0,"y":3.25,"l":3.1,"h":3.4},
{"s":"cV2AE","x":0.05,"y":0.5,"l":0.3,"h":0.7},{"s":"cV2AE","x":0.06,"y":1.5,"l":1.1,"h":1.9},{"s":"cV2AE","x":0.07,"y":2.6,"l":2.0,"h":3.2},{"s":"cV2AE","x":0.08,"y":4.0,"l":3.0,"h":5.2},{"s":"cV2AE","x":0.09,"y":4.8,"l":3.3,"h":6.5},{"s":"cV2AE","x":0.1,"y":5.3,"l":3.3,"h":7.6},{"s":"cV2AE","x":0.11,"y":5.1,"l":3.3,"h":7.3},{"s":"cV2AE","x":0.12,"y":4.8,"l":3.3,"h":6.3},{"s":"cV2AE","x":0.13,"y":4.75,"l":3.4,"h":5.8},{"s":"cV2AE","x":0.14,"y":4.7,"l":3.5,"h":5.9},{"s":"cV2AE","x":0.15,"y":4.4,"l":3.4,"h":5.3},{"s":"cV2AE","x":0.17,"y":3.8,"l":3.0,"h":4.5},{"s":"cV2AE","x":0.2,"y":3.4,"l":2.8,"h":3.9},{"s":"cV2AE","x":0.25,"y":3.15,"l":2.7,"h":3.6},{"s":"cV2AE","x":0.3,"y":3.0,"l":2.65,"h":3.35},{"s":"cV2AE","x":0.35,"y":2.95,"l":2.6,"h":3.3},{"s":"cV2AE","x":0.4,"y":2.9,"l":2.6,"h":3.2},{"s":"cV2AE","x":0.5,"y":2.85,"l":2.55,"h":3.15},{"s":"cV2AE","x":0.6,"y":2.85,"l":2.5,"h":3.2},{"s":"cV2AE","x":0.7,"y":2.85,"l":2.5,"h":3.2},{"s":"cV2AE","x":0.8,"y":2.8,"l":2.5,"h":3.1},{"s":"cV2AE","x":0.9,"y":2.75,"l":2.45,"h":3.05},{"s":"cV2AE","x":1.0,"y":2.7,"l":2.4,"h":3.0},
{"s":"V2AE","x":0.05,"y":0.35,"l":0.25,"h":0.45},{"s":"V2AE","x":0.06,"y":1.3,"l":1.0,"h":1.6},{"s":"V2AE","x":0.07,"y":2.2,"l":1.9,"h":2.5},{"s":"V2AE","x":0.08,"y":2.6,"l":2.3,"h":2.9},{"s":"V2AE","x":0.09,"y":2.8,"l":2.5,"h":3.1},{"s":"V2AE","x":0.1,"y":2.85,"l":2.5,"h":3.2},{"s":"V2AE","x":0.11,"y":3.1,"l":2.8,"h":3.4},{"s":"V2AE","x":0.12,"y":3.4,"l":3.0,"h":3.7},{"s":"V2AE","x":0.13,"y":3.2,"l":2.9,"h":3.5},{"s":"V2AE","x":0.14,"y":3.1,"l":2.8,"h":3.4},{"s":"V2AE","x":0.15,"y":3.15,"l":2.85,"h":3.45},{"s":"V2AE","x":0.17,"y":3.25,"l":2.95,"h":3.55},{"s":"V2AE","x":0.2,"y":3.3,"l":3.0,"h":3.6},{"s":"V2AE","x":0.25,"y":3.25,"l":2.95,"h":3.55},{"s":"V2AE","x":0.3,"y":3.15,"l":2.9,"h":3.4},{"s":"V2AE","x":0.35,"y":3.12,"l":2.88,"h":3.36},{"s":"V2AE","x":0.4,"y":3.1,"l":2.85,"h":3.35},{"s":"V2AE","x":0.5,"y":3.08,"l":2.85,"h":3.3},{"s":"V2AE","x":0.6,"y":3.06,"l":2.83,"h":3.29},{"s":"V2AE","x":0.7,"y":3.05,"l":2.82,"h":3.28},{"s":"V2AE","x":0.8,"y":3.03,"l":2.8,"h":3.26},{"s":"V2AE","x":0.9,"y":3.02,"l":2.8,"h":3.24},{"s":"V2AE","x":1.0,"y":3.0,"l":2.78,"h":3.22}
],
"cmr": [
{"s":"AWAC","x":0.05,"y":1.0,"l":0.8,"h":1.2},{"s":"AWAC","x":0.06,"y":5,"l":4.5,"h":5.5},{"s":"AWAC","x":0.07,"y":10,"l":9.2,"h":10.8},{"s":"AWAC","x":0.08,"y":15,"l":14,"h":16},{"s":"AWAC","x":0.09,"y":20,"l":19,"h":21},{"s":"AWAC","x":0.1,"y":24,"l":23,"h":25},{"s":"AWAC","x":0.11,"y":27,"l":26,"h":28},{"s":"AWAC","x":0.12,"y":28.8,"l":27.8,"h":29.8},{"s":"AWAC","x":0.13,"y":29.8,"l":28.8,"h":30.8},{"s":"AWAC","x":0.14,"y":30.5,"l":29.5,"h":31.5},{"s":"AWAC","x":0.15,"y":31,"l":30,"h":32},{"s":"AWAC","x":0.17,"y":31.5,"l":30.6,"h":32.4},{"s":"AWAC","x":0.2,"y":31.8,"l":31,"h":32.6},{"s":"AWAC","x":0.25,"y":32,"l":31.2,"h":32.8},{"s":"AWAC","x":0.3,"y":32,"l":31.2,"h":32.8},{"s":"AWAC","x":0.35,"y":32.2,"l":31.4,"h":33},{"s":"AWAC","x":0.4,"y":32.3,"l":31.5,"h":33.1},{"s":"AWAC","x":0.5,"y":32.7,"l":31.9,"h":33.5},{"s":"AWAC","x":0.6,"y":33,"l":32.2,"h":33.8},{"s":"AWAC","x":0.7,"y":33.1,"l":32.3,"h":33.9},{"s":"AWAC","x":0.8,"y":33.2,"l":32.4,"h":34},{"s":"AWAC","x":0.9,"y":33.3,"l":32.5,"h":34.1},{"s":"AWAC","x":1.0,"y":33.4,"l":32.6,"h":34.2},
{"s":"cV2AE","x":0.05,"y":1.0,"l":0.8,"h":1.2},{"s":"cV2AE","x":0.06,"y":7,"l":6,"h":8},{"s":"cV2AE","x":0.07,"y":14,"l":12.5,"h":15.5},{"s":"cV2AE","x":0.08,"y":21,"l":19.5,"h":22.5},{"s":"cV2AE","x":0.09,"y":26,"l":24.5,"h":27.5},{"s":"cV2AE","x":0.1,"y":29.5,"l":28,"h":31.5},{"s":"cV2AE","x":0.11,"y":31.5,"l":30,"h":33.5},{"s":"cV2AE","x":0.12,"y":31.2,"l":29.5,"h":33},{"s":"cV2AE","x":0.13,"y":31,"l":29.5,"h":32.5},{"s":"cV2AE","x":0.14,"y":30.5,"l":29,"h":32},{"s":"cV2AE","x":0.15,"y":29.8,"l":28.3,"h":31.3},{"s":"cV2AE","x":0.17,"y":28.5,"l":27,"h":30},{"s":"cV2AE","x":0.2,"y":26.5,"l":25,"h":28},{"s":"cV2AE","x":0.25,"y":23.5,"l":22.3,"h":24.7},{"s":"cV2AE","x":0.3,"y":21.5,"l":20.5,"h":22.5},{"s":"cV2AE","x":0.35,"y":20.3,"l":19.3,"h":21.3},{"s":"cV2AE","x":0.4,"y":19.6,"l":18.6,"h":20.6},{"s":"cV2AE","x":0.5,"y":19,"l":18,"h":20},{"s":"cV2AE","x":0.6,"y":18.8,"l":17.8,"h":19.8},{"s":"cV2AE","x":0.7,"y":18.7,"l":17.7,"h":19.7},{"s":"cV2AE","x":0.8,"y":18.5,"l":17.5,"h":19.5},{"s":"cV2AE","x":0.9,"y":18.4,"l":17.4,"h":19.4},{"s":"cV2AE","x":1.0,"y":18.2,"l":17.2,"h":19.2},
{"s":"V2AE","x":0.05,"y":1.0,"l":0.8,"h":1.2},{"s":"V2AE","x":0.06,"y":5,"l":4,"h":6},{"s":"V2AE","x":0.07,"y":10,"l":8.5,"h":11.5},{"s":"V2AE","x":0.08,"y":15,"l":13,"h":17},{"s":"V2AE","x":0.09,"y":19,"l":17,"h":21},{"s":"V2AE","x":0.1,"y":21,"l":19,"h":23},{"s":"V2AE","x":0.11,"y":22,"l":20,"h":24},{"s":"V2AE","x":0.12,"y":22.3,"l":20.3,"h":24.3},{"s":"V2AE","x":0.13,"y":22.2,"l":20.2,"h":24.2},{"s":"V2AE","x":0.14,"y":22,"l":20,"h":24},{"s":"V2AE","x":0.15,"y":21.8,"l":19.8,"h":23.8},{"s":"V2AE","x":0.17,"y":21.3,"l":19.3,"h":23.3},{"s":"V2AE","x":0.2,"y":20.6,"l":18.6,"h":22.6},{"s":"V2AE","x":0.25,"y":19.5,"l":17.5,"h":21.5},{"s":"V2AE","x":0.3,"y":18.7,"l":16.7,"h":20.7},{"s":"V2AE","x":0.35,"y":18.2,"l":16.2,"h":20.2},{"s":"V2AE","x":0.4,"y":17.9,"l":15.9,"h":19.9},{"s":"V2AE","x":0.5,"y":17.4,"l":15.4,"h":19.4},{"s":"V2AE","x":0.6,"y":17.2,"l":15.2,"h":19.2},{"s":"V2AE","x":0.7,"y":17,"l":15,"h":19},{"s":"V2AE","x":0.8,"y":16.8,"l":14.8,"h":18.8},{"s":"V2AE","x":0.9,"y":16.5,"l":14.5,"h":18.5},{"s":"V2AE","x":1.0,"y":16.3,"l":14.3,"h":18.3}
],
"cme": [
{"s":"AWAC","x":0.05,"y":0,"l":0,"h":0},{"s":"AWAC","x":0.3,"y":0,"l":0,"h":0},{"s":"AWAC","x":0.5,"y":0,"l":0,"h":0},{"s":"AWAC","x":0.6,"y":0,"l":-0.002,"h":0.002},{"s":"AWAC","x":0.7,"y":0,"l":-0.005,"h":0.005},{"s":"AWAC","x":0.8,"y":-0.005,"l":-0.015,"h":0.01},{"s":"AWAC","x":0.9,"y":-0.01,"l":-0.03,"h":0.02},{"s":"AWAC","x":1.0,"y":-0.02,"l":-0.06,"h":0.03},
{"s":"cV2AE","x":0.05,"y":0,"l":0,"h":0},{"s":"cV2AE","x":0.3,"y":0,"l":0,"h":0},{"s":"cV2AE","x":0.5,"y":0,"l":0,"h":0},{"s":"cV2AE","x":0.6,"y":0,"l":-0.002,"h":0.003},{"s":"cV2AE","x":0.7,"y":0.002,"l":-0.005,"h":0.01},{"s":"cV2AE","x":0.8,"y":0.006,"l":-0.01,"h":0.03},{"s":"cV2AE","x":0.9,"y":0.012,"l":-0.015,"h":0.06},{"s":"cV2AE","x":1.0,"y":0.02,"l":-0.02,"h":0.09},
{"s":"V2AE","x":0.05,"y":0,"l":0,"h":0},{"s":"V2AE","x":0.3,"y":0,"l":0,"h":0},{"s":"V2AE","x":0.5,"y":0,"l":0,"h":0},{"s":"V2AE","x":0.55,"y":0.001,"l":-0.004,"h":0.006},{"s":"V2AE","x":0.6,"y":0.003,"l":-0.012,"h":0.018},{"s":"V2AE","x":0.65,"y":0.006,"l":-0.034,"h":0.046},{"s":"V2AE","x":0.7,"y":0.012,"l":-0.088,"h":0.112},{"s":"V2AE","x":0.75,"y":0.03,"l":-0.19,"h":0.25},{"s":"V2AE","x":0.8,"y":0.065,"l":-0.315,"h":0.445},{"s":"V2AE","x":0.85,"y":0.12,"l":-0.46,"h":0.7},{"s":"V2AE","x":0.9,"y":0.2,"l":-0.62,"h":1.02},{"s":"V2AE","x":0.95,"y":0.29,"l":-0.86,"h":1.44},{"s":"V2AE","x":1.0,"y":0.4,"l":-1.15,"h":1.95}
],
"ce": [
{"s":"AWAC","x":0.05,"y":0,"l":0,"h":0},{"s":"AWAC","x":0.5,"y":0,"l":0,"h":0},{"s":"AWAC","x":1.0,"y":0,"l":0,"h":0},
{"s":"cV2AE","x":0.05,"y":0,"l":0,"h":0},{"s":"cV2AE","x":0.4,"y":0,"l":0,"h":0},{"s":"cV2AE","x":0.5,"y":0.01,"l":-0.01,"h":0.03},{"s":"cV2AE","x":0.55,"y":0.02,"l":-0.02,"h":0.06},{"s":"cV2AE","x":0.6,"y":0.05,"l":-0.05,"h":0.15},{"s":"cV2AE","x":0.65,"y":0.15,"l":-0.05,"h":0.45},{"s":"cV2AE","x":0.7,"y":0.35,"l":-0.05,"h":1.0},{"s":"cV2AE","x":0.75,"y":0.6,"l":-0.1,"h":1.6},{"s":"cV2AE","x":0.775,"y":0.75,"l":0.0,"h":1.8},{"s":"cV2AE","x":0.8,"y":0.85,"l":0.05,"h":1.9},{"s":"cV2AE","x":0.825,"y":0.95,"l":0.1,"h":2.0},{"s":"cV2AE","x":0.85,"y":1.15,"l":0.2,"h":2.0},{"s":"cV2AE","x":0.875,"y":1.4,"l":0.5,"h":2.4},{"s":"cV2AE","x":0.9,"y":1.95,"l":0.8,"h":3.2},{"s":"cV2AE","x":0.925,"y":2.4,"l":1.0,"h":3.9},{"s":"cV2AE","x":0.95,"y":2.9,"l":1.2,"h":4.8},{"s":"cV2AE","x":0.975,"y":3.5,"l":1.3,"h":5.8},{"s":"cV2AE","x":0.99,"y":4.0,"l":1.1,"h":7.0},{"s":"cV2AE","x":1.0,"y":4.4,"l":0.9,"h":7.6},
{"s":"V2AE","x":0.05,"y":0,"l":0,"h":0},{"s":"V2AE","x":0.5,"y":0,"l":0,"h":0},{"s":"V2AE","x":1.0,"y":0,"l":0,"h":0}
]
},
"spacing": 54,
"resolve": {"scale": {"color": "independent", "fill": "independent"}, "legend": {"color": "independent", "fill": "independent"}},
"vconcat": [
{
"spacing": 0,
"bounds": "flush",
"resolve": {"scale": {"color": "independent", "fill": "independent"}, "legend": {"color": "independent", "fill": "independent"}},
"hconcat": [
{"width": 14, "height": 124, "view": {"stroke": null}, "data": {"values": []}, "mark": "point"},
{"width": 191.5, "height": 124, "title": "hopper-medium-v2", "data": {"name": "hm"},
 "layer": [
  {"mark": {"type": "area", "opacity": 0.3, "clip": true},
   "encoding": {
    "x": {"field": "x", "type": "quantitative", "scale": {"domain": [0.0025, 1.0475], "nice": false, "zero": false}, "axis": {"values": [0.25, 0.5, 0.75, 1.0], "format": ".2f", "title": "Time steps (1e6)"}},
    "y": {"field": "l", "type": "quantitative", "stack": null, "scale": {"domain": [0.027, 1.214], "nice": false, "zero": false}, "axis": {"values": [0.25, 0.5, 0.75, 1.0], "format": ".2f", "title": "Normalized score", "titleX": -35.5}},
    "y2": {"field": "h"},
    "fill": {"field": "s", "type": "nominal", "scale": {"domain": ["AWAC", "V2AE", "cV2AE"], "range": ["#008000", "#ff0000", "#0000ff"]}, "legend": null}}},
  {"mark": {"type": "line", "strokeWidth": 1.3, "clip": true},
   "encoding": {
    "x": {"field": "x", "type": "quantitative", "scale": {"domain": [0.0025, 1.0475], "nice": false, "zero": false}, "axis": {"values": [0.25, 0.5, 0.75, 1.0], "format": ".2f", "title": "Time steps (1e6)"}},
    "y": {"field": "y", "type": "quantitative", "scale": {"domain": [0.027, 1.214], "nice": false, "zero": false}, "axis": {"values": [0.25, 0.5, 0.75, 1.0], "format": ".2f", "title": "Normalized score", "titleX": -35.5}},
    "color": {"field": "s", "type": "nominal", "scale": {"domain": ["AWAC", "cV2AE", "V2AE"], "range": ["#008000", "#0000ff", "#ff0000"]}, "legend": {"orient": "none", "legendX": 112, "legendY": 65, "title": null, "direction": "vertical", "symbolType": "stroke"}}}}
 ]
},
{"width": 68.5, "height": 124, "view": {"stroke": null}, "data": {"values": []}, "mark": "point"},
{"width": 192.5, "height": 124, "title": "hopper-medium-replay-v2", "data": {"name": "hmr"},
 "layer": [
  {"mark": {"type": "area", "opacity": 0.3, "clip": true},
   "encoding": {
    "x": {"field": "x", "type": "quantitative", "scale": {"domain": [0.0025, 1.0475], "nice": false, "zero": false}, "axis": {"values": [0.25, 0.5, 0.75, 1.0], "format": ".2f", "title": "Time steps (1e6)"}},
    "y": {"field": "l", "type": "quantitative", "stack": null, "scale": {"domain": [-0.16, 1.385], "nice": false, "zero": false}, "axis": {"values": [0, 0.5, 1.0], "format": ".1f", "title": "Normalized score", "titleX": -30}},
    "y2": {"field": "h"},
    "fill": {"field": "s", "type": "nominal", "scale": {"domain": ["AWAC", "V2AE", "cV2AE"], "range": ["#008000", "#ff0000", "#0000ff"]}, "legend": null}}},
  {"mark": {"type": "line", "strokeWidth": 1.3, "clip": true},
   "encoding": {
    "x": {"field": "x", "type": "quantitative", "scale": {"domain": [0.0025, 1.0475], "nice": false, "zero": false}, "axis": {"values": [0.25, 0.5, 0.75, 1.0], "format": ".2f", "title": "Time steps (1e6)"}},
    "y": {"field": "y", "type": "quantitative", "scale": {"domain": [-0.16, 1.385], "nice": false, "zero": false}, "axis": {"values": [0, 0.5, 1.0], "format": ".1f", "title": "Normalized score", "titleX": -30}},
    "color": {"field": "s", "type": "nominal", "scale": {"domain": ["AWAC", "cV2AE", "V2AE"], "range": ["#008000", "#0000ff", "#ff0000"]}, "legend": {"orient": "none", "legendX": 113, "legendY": 66, "title": null, "direction": "vertical", "symbolType": "stroke"}}}}
 ]
},
{"width": 67.7, "height": 124, "view": {"stroke": null}, "data": {"values": []}, "mark": "point"},
{"width": 192.3, "height": 124, "title": "hopper-medium-expert-v2", "data": {"name": "hme"},
 "layer": [
  {"mark": {"type": "area", "opacity": 0.3, "clip": true},
   "encoding": {
    "x": {"field": "x", "type": "quantitative", "scale": {"domain": [0.0025, 1.0475], "nice": false, "zero": false}, "axis": {"values": [0.25, 0.5, 0.75, 1.0], "format": ".2f", "title": "Time steps (1e6)"}},
    "y": {"field": "l", "type": "quantitative", "stack": null, "scale": {"domain": [-0.42, 1.62], "nice": false, "zero": false}, "axis": {"values": [0, 0.5, 1.0, 1.5], "format": ".1f", "title": "Normalized score", "titleX": -29.7}},
    "y2": {"field": "h"},
    "fill": {"field": "s", "type": "nominal", "scale": {"domain": ["AWAC", "V2AE", "cV2AE"], "range": ["#008000", "#ff0000", "#0000ff"]}, "legend": null}}},
  {"mark": {"type": "line", "strokeWidth": 1.3, "clip": true},
   "encoding": {
    "x": {"field": "x", "type": "quantitative", "scale": {"domain": [0.0025, 1.0475], "nice": false, "zero": false}, "axis": {"values": [0.25, 0.5, 0.75, 1.0], "format": ".2f", "title": "Time steps (1e6)"}},
    "y": {"field": "y", "type": "quantitative", "scale": {"domain": [-0.42, 1.62], "nice": false, "zero": false}, "axis": {"values": [0, 0.5, 1.0, 1.5], "format": ".1f", "title": "Normalized score", "titleX": -29.7}},
    "color": {"field": "s", "type": "nominal", "scale": {"domain": ["AWAC", "cV2AE", "V2AE"], "range": ["#008000", "#0000ff", "#ff0000"]}, "legend": {"orient": "none", "legendX": 58.5, "legendY": 65, "title": null, "direction": "vertical", "symbolType": "stroke"}}}}
 ]
},
{"width": 67.7, "height": 124, "view": {"stroke": null}, "data": {"values": []}, "mark": "point"},
{"width": 192.3, "height": 124, "title": "hopper-expert-v2", "data": {"name": "he"},
 "layer": [
  {"mark": {"type": "area", "opacity": 0.3, "clip": true},
   "encoding": {
    "x": {"field": "x", "type": "quantitative", "scale": {"domain": [0.0025, 1.0475], "nice": false, "zero": false}, "axis": {"values": [0.25, 0.5, 0.75, 1.0], "format": ".2f", "title": "Time steps (1e6)"}},
    "y": {"field": "l", "type": "quantitative", "stack": null, "scale": {"domain": [-0.33, 1.85], "nice": false, "zero": false}, "axis": {"values": [0, 0.5, 1.0, 1.5], "format": ".1f", "title": "Normalized score", "titleX": -29.7}},
    "y2": {"field": "h"},
    "fill": {"field": "s", "type": "nominal", "scale": {"domain": ["AWAC", "V2AE", "cV2AE"], "range": ["#008000", "#ff0000", "#0000ff"]}, "legend": null}}},
  {"mark": {"type": "line", "strokeWidth": 1.3, "clip": true},
   "encoding": {
    "x": {"field": "x", "type": "quantitative", "scale": {"domain": [0.0025, 1.0475], "nice": false, "zero": false}, "axis": {"values": [0.25, 0.5, 0.75, 1.0], "format": ".2f", "title": "Time steps (1e6)"}},
    "y": {"field": "y", "type": "quantitative", "scale": {"domain": [-0.33, 1.85], "nice": false, "zero": false}, "axis": {"values": [0, 0.5, 1.0, 1.5], "format": ".1f", "title": "Normalized score", "titleX": -29.7}},
    "color": {"field": "s", "type": "nominal", "scale": {"domain": ["AWAC", "cV2AE", "V2AE"], "range": ["#008000", "#0000ff", "#ff0000"]}, "legend": {"orient": "none", "legendX": 113, "legendY": 66, "title": null, "direction": "vertical", "symbolType": "stroke"}}}}
 ]
}
]
},
{
"spacing": 0,
"bounds": "flush",
"resolve": {"scale": {"color": "independent", "fill": "independent"}, "legend": {"color": "independent", "fill": "independent"}},
"hconcat": [
{"width": 202.7, "height": 124, "title": {"text": "hopper-medium-v2", "dy": 4.3}, "data": {"name": "cm"},
 "layer": [
  {"mark": {"type": "area", "opacity": 0.3, "clip": true},
   "encoding": {
    "x": {"field": "x", "type": "quantitative", "scale": {"domain": [0.0025, 1.0475], "nice": false, "zero": false}, "axis": {"values": [0.2, 0.4, 0.6, 0.8, 1.0], "format": ".1f", "title": "Time steps (1e6)"}},
    "y": {"field": "l", "type": "quantitative", "stack": null, "scale": {"domain": [0.03, 8.07], "nice": false, "zero": false}, "axis": {"values": [2, 4, 6, 8], "format": "d", "title": "Critic loss", "titleX": -20.5}},
    "y2": {"field": "h"},
    "fill": {"field": "s", "type": "nominal", "scale": {"domain": ["AWAC", "V2AE", "cV2AE"], "range": ["#008000", "#ff0000", "#0000ff"]}, "legend": null}}},
  {"mark": {"type": "line", "strokeWidth": 1.3, "clip": true},
   "encoding": {
    "x": {"field": "x", "type": "quantitative", "scale": {"domain": [0.0025, 1.0475], "nice": false, "zero": false}, "axis": {"values": [0.2, 0.4, 0.6, 0.8, 1.0], "format": ".1f", "title": "Time steps (1e6)"}},
    "y": {"field": "y", "type": "quantitative", "scale": {"domain": [0.03, 8.07], "nice": false, "zero": false}, "axis": {"values": [2, 4, 6, 8], "format": "d", "title": "Critic loss", "titleX": -20.5}},
    "color": {"field": "s", "type": "nominal", "scale": {"domain": ["AWAC", "cV2AE", "V2AE"], "range": ["#008000", "#0000ff", "#ff0000"]}, "legend": null}}}
 ]
},
{"width": 64.7, "height": 124, "view": {"stroke": null}, "data": {"values": []}, "mark": "point"},
{"width": 193.6, "height": 124, "title": "hopper-medium-replay-v2", "data": {"name": "cmr"},
 "layer": [
  {"mark": {"type": "area", "opacity": 0.3, "clip": true},
   "encoding": {
    "x": {"field": "x", "type": "quantitative", "scale": {"domain": [0.0025, 1.0475], "nice": false, "zero": false}, "axis": {"values": [0.25, 0.5, 0.75, 1.0], "format": ".2f", "title": "Time steps (1e6)"}},
    "y": {"field": "l", "type": "quantitative", "stack": null, "scale": {"domain": [-0.9, 36.2], "nice": false, "zero": false}, "axis": {"values": [0, 10, 20, 30], "format": "d", "title": "Critic loss", "titleX": -26.5}},
    "y2": {"field": "h"},
    "fill": {"field": "s", "type": "nominal", "scale": {"domain": ["AWAC", "V2AE", "cV2AE"], "range": ["#008000", "#ff0000", "#0000ff"]}, "legend": null}}},
  {"mark": {"type": "line", "strokeWidth": 1.3, "clip": true},
   "encoding": {
    "x": {"field": "x", "type": "quantitative", "scale": {"domain": [0.0025, 1.0475], "nice": false, "zero": false}, "axis": {"values": [0.25, 0.5, 0.75, 1.0], "format": ".2f", "title": "Time steps (1e6)"}},
    "y": {"field": "y", "type": "quantitative", "scale": {"domain": [-0.9, 36.2], "nice": false, "zero": false}, "axis": {"values": [0, 10, 20, 30], "format": "d", "title": "Critic loss", "titleX": -26.5}},
    "color": {"field": "s", "type": "nominal", "scale": {"domain": ["AWAC", "cV2AE", "V2AE"], "range": ["#008000", "#0000ff", "#ff0000"]}, "legend": null}}}
 ]
},
{"width": 68.4, "height": 124, "view": {"stroke": null}, "data": {"values": []}, "mark": "point"},
{"width": 193.3, "height": 124, "title": {"text": "hopper-medium-expert-v2", "dy": 11.6}, "data": {"name": "cme"},
 "layer": [
  {"mark": {"type": "area", "opacity": 0.3, "clip": true},
   "encoding": {
    "x": {"field": "x", "type": "quantitative", "scale": {"domain": [0.0025, 1.0475], "nice": false, "zero": false}, "axis": {"values": [0.25, 0.5, 0.75, 1.0], "format": ".2f", "title": "Time steps (1e6)"}},
    "y": {"field": "l", "type": "quantitative", "stack": null, "scale": {"domain": [-1.34, 2.12], "nice": false, "zero": false}, "axis": {"values": [-1, 0, 1, 2], "format": "d", "title": "Critic loss", "titleX": -27.7}},
    "y2": {"field": "h"},
    "fill": {"field": "s", "type": "nominal", "scale": {"domain": ["AWAC", "V2AE", "cV2AE"], "range": ["#008000", "#ff0000", "#0000ff"]}, "legend": null}}},
  {"mark": {"type": "line", "strokeWidth": 1.3, "clip": true},
   "encoding": {
    "x": {"field": "x", "type": "quantitative", "scale": {"domain": [0.0025, 1.0475], "nice": false, "zero": false}, "axis": {"values": [0.25, 0.5, 0.75, 1.0], "format": ".2f", "title": "Time steps (1e6)"}},
    "y": {"field": "y", "type": "quantitative", "scale": {"domain": [-1.34, 2.12], "nice": false, "zero": false}, "axis": {"values": [-1, 0, 1, 2], "format": "d", "title": "Critic loss", "titleX": -27.7}},
    "color": {"field": "s", "type": "nominal", "scale": {"domain": ["AWAC", "cV2AE", "V2AE"], "range": ["#008000", "#0000ff", "#ff0000"]}, "legend": null}}},
  {"data": {"values": [{"t": "1e13"}]},
   "mark": {"type": "text", "align": "left", "baseline": "alphabetic", "dy": -3, "fontSize": 10.8, "font": "DejaVu Sans", "color": "#000000"},
   "encoding": {"x": {"datum": 0.0025}, "y": {"datum": 2.12}, "text": {"field": "t"}}}
 ]
},
{"width": 58.3, "height": 124, "view": {"stroke": null}, "data": {"values": []}, "mark": "point"},
{"width": 196.7, "height": 124, "title": {"text": "hopper-expert-v2", "dy": 11.6}, "data": {"name": "ce"},
 "layer": [
  {"mark": {"type": "area", "opacity": 0.3, "clip": true},
   "encoding": {
    "x": {"field": "x", "type": "quantitative", "scale": {"domain": [0.0025, 1.0475], "nice": false, "zero": false}, "axis": {"values": [0.2, 0.4, 0.6, 0.8, 1.0], "format": ".1f", "title": "Time steps (1e6)"}},
    "y": {"field": "l", "type": "quantitative", "stack": null, "scale": {"domain": [-0.56, 8.05], "nice": false, "zero": false}, "axis": {"values": [0, 2, 4, 6, 8], "format": "d", "title": "Critic loss", "titleX": -19}},
    "y2": {"field": "h"},
    "fill": {"field": "s", "type": "nominal", "scale": {"domain": ["AWAC", "V2AE", "cV2AE"], "range": ["#008000", "#ff0000", "#0000ff"]}, "legend": null}}},
  {"mark": {"type": "line", "strokeWidth": 1.3, "clip": true},
   "encoding": {
    "x": {"field": "x", "type": "quantitative", "scale": {"domain": [0.0025, 1.0475], "nice": false, "zero": false}, "axis": {"values": [0.2, 0.4, 0.6, 0.8, 1.0], "format": ".1f", "title": "Time steps (1e6)"}},
    "y": {"field": "y", "type": "quantitative", "scale": {"domain": [-0.56, 8.05], "nice": false, "zero": false}, "axis": {"values": [0, 2, 4, 6, 8], "format": "d", "title": "Critic loss", "titleX": -19}},
    "color": {"field": "s", "type": "nominal", "scale": {"domain": ["AWAC", "cV2AE", "V2AE"], "range": ["#008000", "#0000ff", "#ff0000"]}, "legend": null}}},
  {"data": {"values": [{"t": "1e14"}]},
   "mark": {"type": "text", "align": "left", "baseline": "alphabetic", "dy": -3, "fontSize": 10.8, "font": "DejaVu Sans", "color": "#000000"},
   "encoding": {"x": {"datum": 0.0025}, "y": {"datum": 8.05}, "text": {"field": "t"}}}
 ]
}
]
}
]
}
